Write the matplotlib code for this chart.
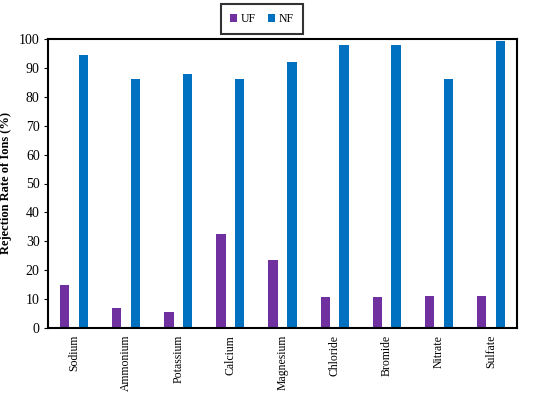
import numpy as np
import matplotlib
matplotlib.use('Agg')
import matplotlib.pyplot as plt

plt.rcParams['font.family'] = ['Liberation Serif', 'DejaVu Serif']

ions = ['Sodium', 'Ammonium', 'Potassium', 'Calcium', 'Magnesium',
        'Chloride', 'Bromide', 'Nitrate', 'Sulfate']
uf = [15.0, 7.0, 5.5, 32.5, 23.5, 10.7, 10.7, 11.0, 11.2]
nf = [94.5, 86.0, 88.0, 86.2, 92.0, 98.0, 98.0, 86.2, 99.2]

fig = plt.figure(figsize=(5.5, 3.95), dpi=100)
ax = fig.add_axes([48/550, 1 - 328/395, 469/550, 289/395])

x = np.arange(len(ions))
w = 0.18
ax.bar(x - 0.18, uf, w, color='#7030A0', label='UF')
ax.bar(x + 0.18, nf, w, color='#0070C0', label='NF')

ax.set_xlim(-0.5, len(ions) - 0.5)
ax.set_ylim(0, 100)
ax.set_yticks(range(0, 101, 10))
ax.set_xticks(x)
ax.set_xticklabels(ions, rotation=90, fontsize=8.5)
ax.tick_params(axis='y', labelsize=10, direction='out', length=3, pad=3)
ax.tick_params(axis='x', length=0, pad=5)
ax.set_ylabel('Rejection Rate of Ions (%)', fontsize=9, fontweight='bold', labelpad=5)
for s in ax.spines.values():
    s.set_linewidth(1.5)

leg = fig.legend(loc='center', bbox_to_anchor=(262/550, 1 - 19/395), ncol=2,
                 fontsize=8.5, handlelength=0.6, handleheight=0.6, handletextpad=0.3,
                 columnspacing=1.0, fancybox=False, edgecolor='black',
                 borderpad=0.8)
leg.get_frame().set_linewidth(1.5)

fig.savefig('out.png', dpi=100)
